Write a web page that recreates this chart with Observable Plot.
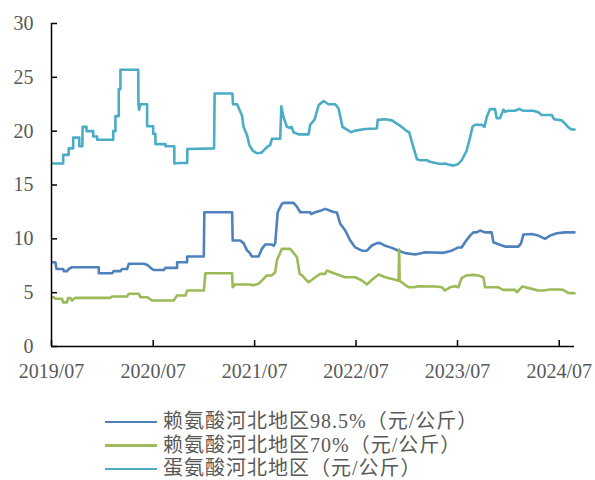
<!DOCTYPE html>
<html>
<head>
<meta charset="utf-8">
<script src="https://cdn.jsdelivr.net/npm/d3@7"></script>
<script src="https://cdn.jsdelivr.net/npm/@observablehq/plot@0.6"></script>
<style>
  html, body { margin: 0; padding: 0; background: #fff; }
  #wrap { position: relative; width: 595px; height: 480px; overflow: hidden; }
  #legend { position: absolute; left: 105px; top: 410px; font-family: "Liberation Serif", "Noto Sans CJK SC", serif; font-size: 20px; letter-spacing: 1px; color: #595959; }
  .row { display: flex; align-items: center; height: 23.6px; line-height: 23px; white-space: nowrap; }
  .sw { width: 52px; height: 2.5px; margin-right: 6px; flex: none; }
</style>
</head>
<body>
<div id="wrap"><div id="chart"></div><div id="legend"></div></div>
<script>
// ---- series names & colors
const seriesNames = ["赖氨酸河北地区98.5%（元/公斤）", "赖氨酸河北地区70%（元/公斤）", "蛋氨酸河北地区（元/公斤）"];
const seriesColors = ["#4f81bd", "#9bbb59", "#4bacc6"];

// ---- tick labels
const yTicks = [0, 5, 10, 15, 20, 25, 30];
const xTicks = ["2019-07-01", "2020-07-01", "2021-07-01", "2022-07-01", "2023-07-01", "2024-07-01"];
const xDomain = ["2019-07-01", "2024-08-25"];

// ---- 赖氨酸河北地区98.5%
const lys985Dates = ["2019-07-03","2019-07-15","2019-07-19","2019-08-12","2019-08-14","2019-08-26","2019-09-01","2019-09-13","2019-12-18","2019-12-18","2020-02-04","2020-02-10","2020-03-05","2020-03-11","2020-03-29","2020-04-04","2020-05-28","2020-06-09","2020-06-27","2020-07-03","2020-08-08","2020-08-14","2020-09-25","2020-09-25","2020-10-31","2020-10-31","2020-12-30","2021-01-01","2021-04-11","2021-04-13","2021-05-10","2021-05-22","2021-06-04","2021-06-10","2021-06-21","2021-07-15","2021-07-21","2021-07-27","2021-08-08","2021-09-01","2021-09-07","2021-09-13","2021-09-22","2021-10-07","2021-10-13","2021-11-18","2021-11-30","2021-12-12","2022-01-17","2022-01-20","2022-02-04","2022-02-22","2022-03-12","2022-04-11","2022-04-23","2022-05-05","2022-05-23","2022-06-10","2022-06-28","2022-07-22","2022-08-09","2022-08-27","2022-09-14","2022-09-26","2022-10-14","2022-11-07","2022-12-01","2022-12-25","2023-01-30","2023-03-07","2023-05-11","2023-06-10","2023-07-04","2023-07-16","2023-07-28","2023-08-15","2023-08-27","2023-09-08","2023-09-20","2023-10-08","2023-11-01","2023-11-07","2023-11-25","2023-12-19","2024-02-05","2024-02-15","2024-02-23","2024-03-24","2024-04-17","2024-05-11","2024-05-29","2024-06-22","2024-07-22","2024-08-25"];
const lys985Values = [7.83,7.83,7.2,7.2,7.0,7.0,7.2,7.36,7.36,6.8,6.8,7.0,7.0,7.2,7.2,7.68,7.68,7.6,7.2,7.1,7.1,7.3,7.3,7.83,7.83,8.36,8.36,12.47,12.47,9.84,9.84,9.6,8.9,8.8,8.36,8.36,8.7,9.07,9.47,9.47,9.35,9.6,12.47,13.25,13.34,13.34,13.0,12.47,12.47,12.3,12.47,12.6,12.78,12.5,12.45,11.4,10.77,9.84,9.2,8.9,8.9,9.38,9.6,9.6,9.35,9.16,8.9,8.67,8.54,8.76,8.7,8.9,9.2,9.2,9.68,10.3,10.6,10.6,10.77,10.6,10.6,9.68,9.5,9.28,9.28,9.6,10.4,10.45,10.3,10.0,10.3,10.52,10.6,10.6];

// ---- 赖氨酸河北地区70%
const lys70Dates = ["2019-07-03","2019-07-09","2019-07-15","2019-08-08","2019-08-12","2019-08-26","2019-08-30","2019-09-07","2019-09-13","2019-09-25","2020-01-29","2020-02-04","2020-03-29","2020-04-04","2020-05-10","2020-05-16","2020-06-09","2020-06-27","2020-09-13","2020-09-25","2020-10-25","2020-10-31","2020-12-30","2021-01-05","2021-04-11","2021-04-13","2021-04-22","2021-06-09","2021-06-27","2021-07-15","2021-08-02","2021-08-14","2021-09-01","2021-09-13","2021-09-19","2021-10-07","2021-11-06","2021-11-18","2021-11-30","2021-12-10","2021-12-19","2021-12-30","2022-01-11","2022-02-04","2022-02-22","2022-03-12","2022-03-18","2022-04-17","2022-05-23","2022-06-28","2022-07-22","2022-08-09","2022-08-27","2022-09-20","2022-10-14","2022-11-19","2022-12-01","2022-12-03","2022-12-05","2022-12-19","2023-01-06","2023-01-24","2023-02-10","2023-04-11","2023-05-06","2023-05-17","2023-06-04","2023-06-22","2023-07-04","2023-07-16","2023-08-03","2023-08-27","2023-09-14","2023-10-02","2023-10-08","2023-11-25","2023-12-12","2024-01-24","2024-01-31","2024-02-19","2024-03-18","2024-04-17","2024-05-05","2024-05-29","2024-06-28","2024-07-15","2024-08-02","2024-08-25"];
const lys70Values = [4.58,4.58,4.43,4.43,4.1,4.1,4.5,4.5,4.27,4.52,4.52,4.64,4.64,4.9,4.9,4.58,4.58,4.27,4.27,4.74,4.74,5.2,5.2,6.8,6.8,5.5,5.76,5.76,5.7,5.82,6.28,6.6,6.6,6.9,8.0,9.07,9.07,8.7,8.3,6.75,6.6,6.28,5.97,6.43,6.75,6.75,7.06,6.75,6.43,6.43,6.13,5.76,6.2,6.68,6.43,6.19,6.1,9.0,6.1,5.82,5.5,5.5,5.6,5.57,5.5,5.2,5.5,5.6,5.5,6.37,6.6,6.65,6.6,6.43,5.5,5.5,5.26,5.26,5.04,5.57,5.4,5.2,5.2,5.3,5.3,5.26,4.98,4.95];

// ---- 蛋氨酸河北地区
const metDates = ["2019-07-03","2019-08-12","2019-08-12","2019-09-01","2019-09-01","2019-09-17","2019-09-17","2019-10-09","2019-10-09","2019-10-20","2019-10-21","2019-11-04","2019-11-04","2019-11-28","2019-11-28","2019-12-12","2019-12-12","2020-02-08","2020-02-08","2020-02-16","2020-02-16","2020-02-28","2020-02-28","2020-03-05","2020-03-05","2020-05-08","2020-05-09","2020-05-11","2020-05-16","2020-06-09","2020-06-09","2020-07-01","2020-07-01","2020-07-09","2020-07-09","2020-08-14","2020-08-14","2020-09-15","2020-09-15","2020-10-01","2020-10-31","2020-11-01","2021-02-05","2021-02-07","2021-04-12","2021-04-14","2021-04-29","2021-05-04","2021-05-17","2021-05-22","2021-06-04","2021-06-12","2021-06-24","2021-07-09","2021-07-25","2021-08-08","2021-08-18","2021-08-26","2021-09-01","2021-10-01","2021-10-05","2021-10-13","2021-10-25","2021-11-06","2021-11-11","2021-11-18","2021-12-06","2022-01-11","2022-01-17","2022-02-02","2022-02-16","2022-03-06","2022-03-24","2022-04-17","2022-04-29","2022-05-13","2022-06-04","2022-06-13","2022-06-28","2022-08-03","2022-09-14","2022-09-17","2022-10-14","2022-11-07","2022-12-07","2022-12-31","2023-01-08","2023-01-20","2023-02-05","2023-02-17","2023-03-13","2023-03-24","2023-04-29","2023-05-17","2023-05-29","2023-06-16","2023-07-04","2023-07-16","2023-08-03","2023-08-15","2023-08-24","2023-09-02","2023-09-26","2023-10-06","2023-10-14","2023-10-26","2023-11-13","2023-11-19","2023-12-01","2023-12-13","2023-12-19","2023-12-31","2024-01-24","2024-02-07","2024-02-23","2024-03-30","2024-04-17","2024-04-29","2024-06-04","2024-06-13","2024-07-10","2024-07-22","2024-08-03","2024-08-15","2024-08-25"];
const metValues = [17.0,17.0,17.8,17.8,18.4,18.4,19.4,19.4,18.6,18.6,20.4,20.4,20.0,20.0,19.5,19.5,19.2,19.2,20.0,20.0,21.4,21.4,23.9,23.9,25.7,25.7,22.5,22.0,22.5,22.5,20.45,20.45,19.75,19.75,18.8,18.8,18.6,18.6,17.0,17.05,17.05,18.35,18.4,23.5,23.5,22.5,22.5,22.2,21.4,20.4,19.6,18.7,18.2,17.95,18.0,18.35,18.6,18.7,19.3,19.3,22.3,21.3,20.4,20.3,20.4,19.9,19.7,19.7,20.6,21.1,22.4,22.8,22.5,22.5,22.1,20.4,20.05,19.9,20.05,20.2,20.25,21.05,21.1,21.0,20.5,20.0,19.9,18.8,17.4,17.3,17.3,17.15,16.95,17.0,16.9,16.8,16.95,17.3,18.2,19.4,20.4,20.6,20.6,20.4,21.3,22.05,22.05,21.2,21.2,22.0,21.8,21.9,21.9,22.05,21.9,21.9,21.75,21.5,21.5,21.1,21.0,20.7,20.35,20.15,20.15];

const parse = d3.utcParse("%Y-%m-%d");
const seriesDates = [lys985Dates, lys70Dates, metDates];
const seriesValues = [lys985Values, lys70Values, metValues];
const rows = [];
seriesNames.forEach((name, i) => {
  seriesDates[i].forEach((d, j) => rows.push({series: name, date: parse(d), value: seriesValues[i][j]}));
});

const xTickDates = xTicks.map(parse);
const domainDates = xDomain.map(parse);

const chart = Plot.plot({
  width: 595,
  height: 390,
  marginLeft: 51,
  marginRight: 21,
  marginTop: 23,
  marginBottom: 44,
  style: {fontFamily: "'Liberation Serif', serif", fontSize: "20px", color: "#595959", background: "#fff", overflow: "visible"},
  x: {type: "utc", domain: domainDates},
  y: {domain: [0, 30]},
  color: {domain: seriesNames, range: seriesColors},
  marks: [
    Plot.line(rows, {x: "date", y: "value", z: "series", stroke: "series", strokeWidth: 2.6, curve: "linear"}),
    Plot.axisY(yTicks, {tickSize: 6, dx: 6, fill: "none", stroke: "#000", strokeWidth: 1.5, label: null}),
    Plot.axisY(yTicks, {tickSize: 0, tickPadding: 18, stroke: "none", fill: "#595959", label: null}),
    Plot.axisX(xTickDates, {tickSize: 6, dy: -6, fill: "none", stroke: "#000", strokeWidth: 1.5, label: null}),
    Plot.axisX(xTickDates, {tickSize: 0, tickPadding: 17, stroke: "none", fill: "#595959", tickFormat: d3.utcFormat("%Y/%m"), label: null}),
    Plot.ruleX([domainDates[0]], {stroke: "#000", strokeWidth: 1.5}),
    Plot.ruleY([0], {stroke: "#000", strokeWidth: 1.5})
  ]
});
document.getElementById("chart").appendChild(chart);

const legend = document.getElementById("legend");
seriesNames.forEach((name, i) => {
  const row = document.createElement("div");
  row.className = "row";
  const sw = document.createElement("span");
  sw.className = "sw";
  sw.style.background = seriesColors[i];
  const tx = document.createElement("span");
  tx.textContent = name;
  row.appendChild(sw);
  row.appendChild(tx);
  legend.appendChild(row);
});
</script>
</body>
</html>
